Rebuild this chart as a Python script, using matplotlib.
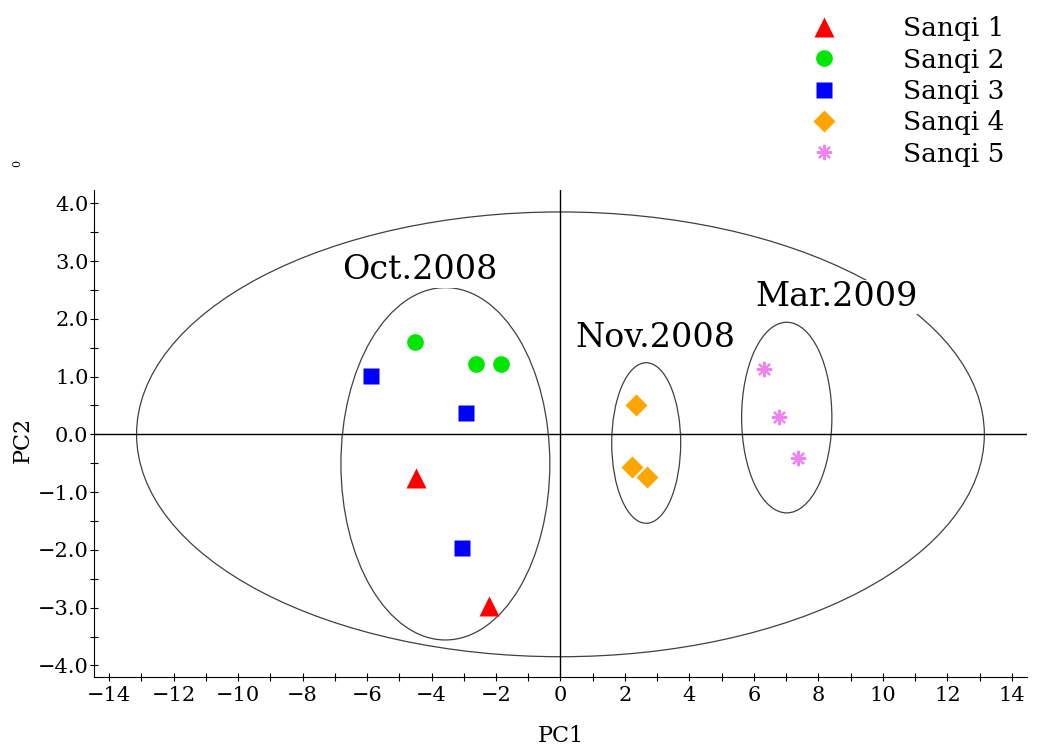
import matplotlib
matplotlib.use("Agg")
import matplotlib.pyplot as plt
from matplotlib.patches import Ellipse
from matplotlib.ticker import MultipleLocator, FuncFormatter

plt.rcParams['font.family'] = ['DejaVu Serif']

# PCA scores
s1_x = [-4.49, -2.22]
s1_y = [-0.76, -2.97]
s2_x = [-4.52, -2.63, -1.85]
s2_y = [1.60, 1.22, 1.22]
s3_x = [-5.88, -2.94, -3.06]
s3_y = [1.01, 0.37, -1.97]
s4_x = [2.34, 2.21, 2.68]
s4_y = [0.51, -0.57, -0.74]
s5_x = [6.31, 6.77, 7.36]
s5_y = [1.13, 0.30, -0.41]

labels = ['Sanqi 1', 'Sanqi 2', 'Sanqi 3', 'Sanqi 4', 'Sanqi 5']

# group ellipses: centre x, centre y, width, height
ell_cx = [0.0, -3.57, 2.66, 7.02]
ell_cy = [0.0, -0.51, -0.15, 0.29]
ell_w = [26.3, 6.48, 2.14, 2.80]
ell_h = [7.70, 6.10, 2.78, 3.30]

groups = ['Oct.2008', 'Nov.2008', 'Mar.2009']
group_x = [-4.35, 2.93, 8.58]
group_y = [2.84, 1.67, 2.38]

fig = plt.figure(figsize=(10.4, 7.48), dpi=100)
ax = fig.add_axes([0.0904, 0.095, 0.897, 0.651])

for cx, cy, w, h in zip(ell_cx, ell_cy, ell_w, ell_h):
    ax.add_patch(Ellipse((cx, cy), w, h, fill=False, edgecolor='#404040', lw=0.9, zorder=1))

ax.axhline(0, color='black', lw=1, zorder=1.5)
ax.axvline(0, color='black', lw=1, zorder=1.5)

h1, = ax.plot(s1_x, s1_y, '^', color='#ff0000', ms=14, ls='none', mec='none', zorder=3)
h2, = ax.plot(s2_x, s2_y, 'o', color='#00e600', ms=12, ls='none', mec='none', zorder=3)
h3, = ax.plot(s3_x, s3_y, 's', color='#0000ff', ms=11, ls='none', mec='none', zorder=3)
h4, = ax.plot(s4_x, s4_y, 'D', color='#ffa500', ms=11, ls='none', mec='none', zorder=3)
h5, = ax.plot(s5_x, s5_y, marker=(8, 2, 0), color='#ee82ee', ms=11, mew=1.6, ls='none', zorder=3)

for g, gx, gy in zip(groups, group_x, group_y):
    ax.text(gx, gy, g, fontsize=24, ha='center', va='center', zorder=2,
            bbox=dict(facecolor='white', edgecolor='none', pad=1))

ax.set_xlim(-14.47, 14.47)
ax.set_ylim(-4.2, 4.23)
ax.xaxis.set_major_locator(MultipleLocator(2))
ax.xaxis.set_minor_locator(MultipleLocator(1))
ax.yaxis.set_major_locator(MultipleLocator(1))
ax.yaxis.set_minor_locator(MultipleLocator(0.5))
ax.yaxis.set_major_formatter(FuncFormatter(lambda v, p: f'{v:.1f}'.replace('-', '\u2212')))
ax.tick_params(which='both', direction='inout', length=6, width=0.8, labelsize=15)
ax.tick_params(axis='y', pad=1)
ax.spines['top'].set_visible(False)
ax.spines['right'].set_visible(False)

ax.set_xlabel('PC1', fontsize=16, va='center')
ax.set_ylabel('PC2', fontsize=16, va='center')
ax.xaxis.set_label_coords(0.5, -0.121)
ax.yaxis.set_label_coords(-0.076, 0.487)

fig.text(0.017, 0.781, '0', fontsize=8, rotation=90, ha='center', va='center')

fig.legend([h1, h2, h3, h4, h5], labels, loc='upper left', bbox_to_anchor=(0.754, 1.01),
           frameon=False, fontsize=19, handletextpad=2.4, labelspacing=0.24,
           handlelength=1.2, markerscale=1.0)

fig.savefig('out.png', dpi=100)
